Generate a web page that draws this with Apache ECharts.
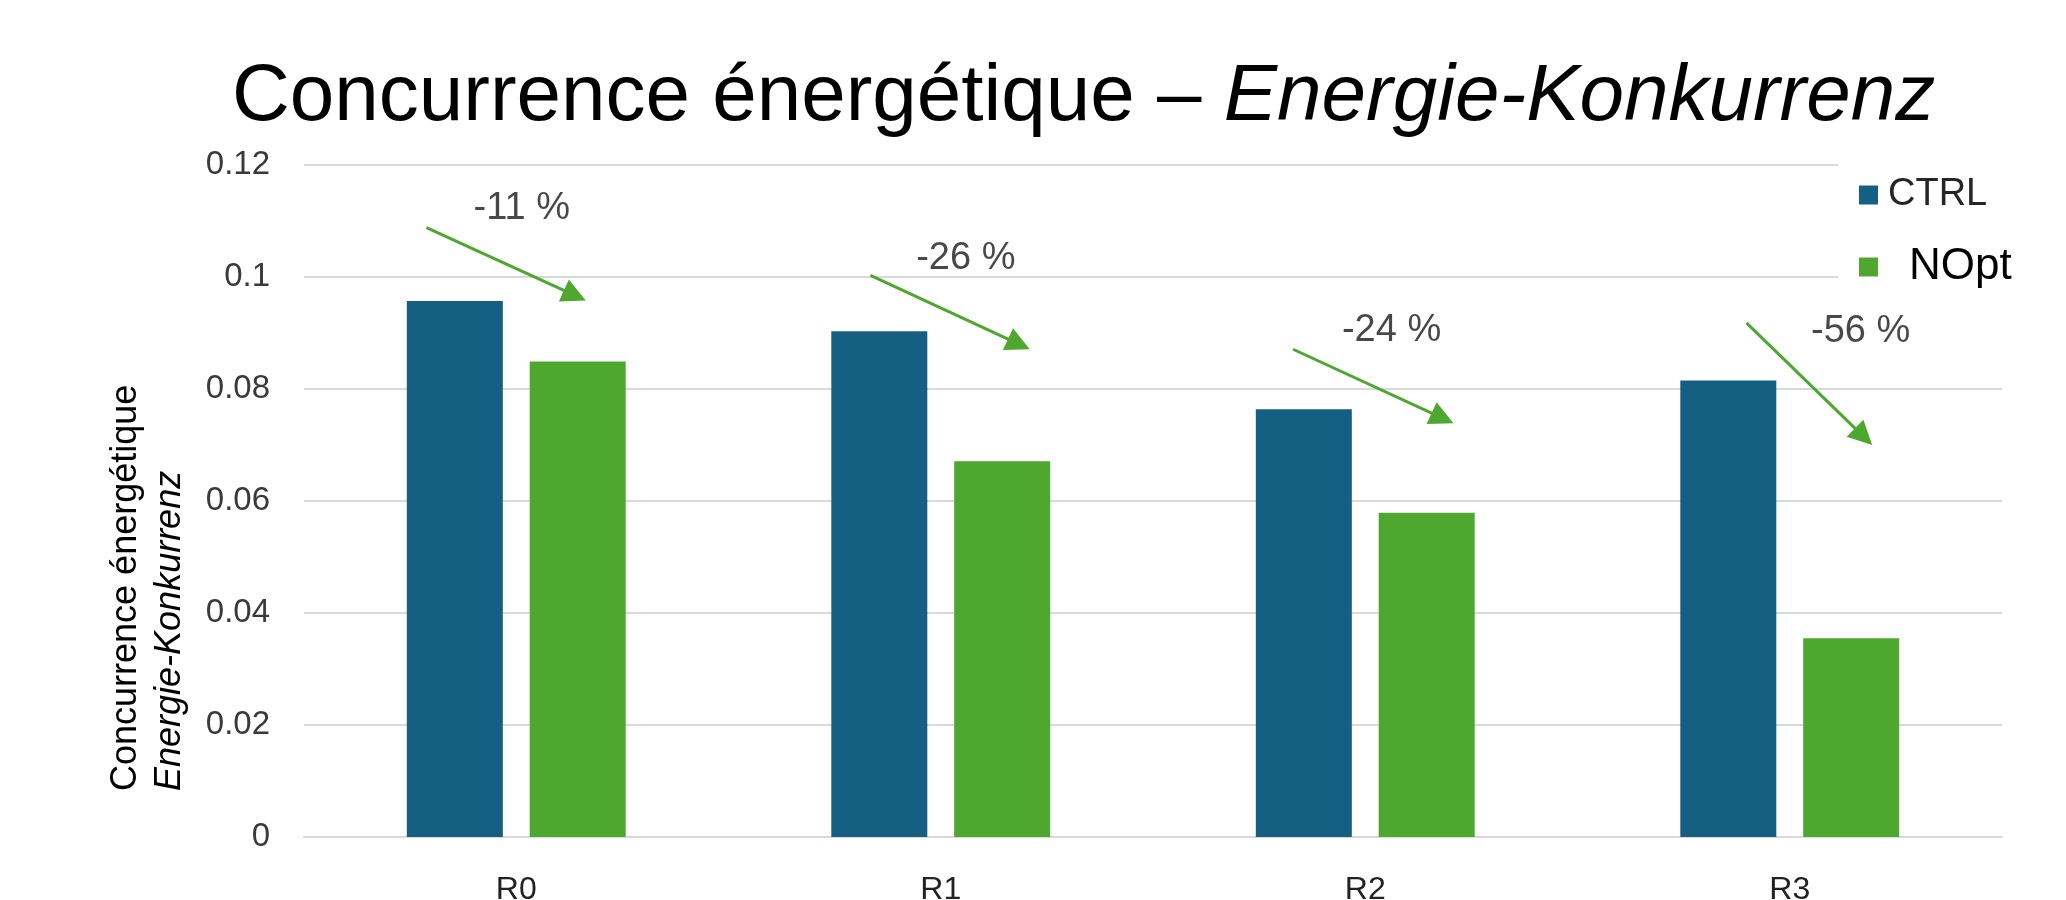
<!DOCTYPE html>
<html>
<head>
<meta charset="utf-8">
<title>Concurrence énergétique – Energie-Konkurrenz</title>
<script src="https://cdn.jsdelivr.net/npm/echarts@6/dist/echarts.min.js"></script>
<style>
  html, body { margin: 0; padding: 0; background: #ffffff; }
  #chart { width: 2066px; height: 900px; }
</style>
</head>
<body>
<div id="chart"></div>
<script>
// Scenarios on the category axis
const categories = ['R0', 'R1', 'R2', 'R3'];

// Energy competition per scenario
const ctrlValues = [0.0957, 0.0903, 0.0764, 0.0815];
const noptValues = [0.0849, 0.0671, 0.0579, 0.0355];

// Relative change NOpt vs CTRL, written above each group
const changeLabels = ['-11 %', '-26 %', '-24 %', '-56 %'];

// Annotation anchors in data units: x = category index (fractional), y = value
const changeLabelAnchors = [[0.013, 0.1122], [1.059, 0.1033], [2.062, 0.0905], [3.167, 0.0903]];
const arrowStarts = [[-0.2115, 0.1088], [0.8344, 0.1003], [1.830, 0.0871], [2.898, 0.0918]];
const arrowEnds = [[0.138, 0.0967], [1.184, 0.0880], [2.182, 0.0748], [3.174, 0.0715]];

const FONT = "'Liberation Sans', Arial, Helvetica, sans-serif";
const BLUE = '#156082';
const GREEN = '#4ea72e';
const GRID_GREY = '#d9d9d9';

const chart = echarts.init(document.getElementById('chart'), null, { renderer: 'canvas' });

const option = {
  backgroundColor: '#ffffff',
  animation: false,
  textStyle: { fontFamily: FONT },
  title: {
    text: '{a|Concurrence énergétique – }{b|Energie-Konkurrenz}',
    left: 232,
    top: 58,
    padding: 0,
    textStyle: {
      fontWeight: 'normal',
      rich: {
        a: { fontFamily: FONT, fontSize: 80, lineHeight: 80, color: '#000000', fontWeight: 'normal' },
        b: { fontFamily: FONT, fontSize: 80, lineHeight: 80, color: '#000000', fontWeight: 'normal', fontStyle: 'italic' }
      }
    }
  },
  legend: {
    orient: 'vertical',
    left: 1838,
    top: 160,
    padding: [16, 10, 10, 21],
    backgroundColor: '#ffffff',
    itemWidth: 19,
    itemHeight: 19,
    itemGap: 31,
    icon: 'rect',
    selectedMode: false,
    data: [
      { name: 'CTRL', textStyle: { fontFamily: FONT, fontSize: 38, color: '#262626', padding: [0, 0, 0, 5] } },
      { name: 'NOpt', textStyle: { fontFamily: FONT, fontSize: 44, color: '#000000', padding: [0, 0, 18, 26] } }
    ]
  },
  grid: {
    left: 304,
    right: 64,
    top: 165,
    bottom: 63,
    containLabel: false,
    outerBoundsMode: 'none'
  },
  xAxis: [
    {
      type: 'category',
      data: categories,
      axisTick: { show: false },
      axisLine: { show: true, lineStyle: { color: GRID_GREY, width: 2 } },
      axisLabel: { fontFamily: FONT, fontSize: 32, color: '#222222', margin: 37 }
    },
    {
      // helper axis so annotations can sit between category centres
      type: 'value',
      min: -0.5,
      max: 3.5,
      show: false
    }
  ],
  yAxis: {
    type: 'value',
    min: 0,
    max: 0.12,
    interval: 0.02,
    axisLine: { show: false },
    axisTick: { show: false },
    splitLine: { show: true, lineStyle: { color: GRID_GREY, width: 2 } },
    axisLabel: { fontFamily: FONT, fontSize: 33, color: '#3a3a3a', margin: 34 },
    name: '{a|Concurrence énergétique}\n{b|Energie-Konkurrenz}',
    nameLocation: 'middle',
    nameRotate: 90,
    nameGap: 112,
    nameTextStyle: {
      rich: {
        a: { fontFamily: FONT, fontSize: 36, lineHeight: 44, color: '#000000', width: 580, align: 'left' },
        b: { fontFamily: FONT, fontSize: 36, lineHeight: 44, color: '#000000', width: 580, align: 'left', fontStyle: 'italic' }
      }
    }
  },
  series: [
    {
      name: 'CTRL',
      type: 'bar',
      data: ctrlValues,
      barWidth: 96,
      barGap: '28%',
      itemStyle: { color: BLUE }
    },
    {
      name: 'NOpt',
      type: 'bar',
      data: noptValues,
      barWidth: 96,
      barGap: '28%',
      itemStyle: { color: GREEN }
    },
    {
      name: 'arrows',
      type: 'lines',
      coordinateSystem: 'cartesian2d',
      xAxisIndex: 1,
      yAxisIndex: 0,
      silent: true,
      symbol: ['none', 'triangle'],
      symbolSize: 24,
      lineStyle: { color: GREEN, width: 3, opacity: 1, curveness: 0 },
      itemStyle: { color: GREEN },
      z: 5,
      data: arrowStarts.map((s, i) => ({ coords: [s, arrowEnds[i]] }))
    },
    {
      name: 'change',
      type: 'scatter',
      xAxisIndex: 1,
      yAxisIndex: 0,
      silent: true,
      symbolSize: 1,
      itemStyle: { color: 'rgba(0,0,0,0)' },
      label: {
        show: true,
        position: 'inside',
        formatter: '{b}',
        fontFamily: FONT,
        fontSize: 38,
        color: '#1a1a1a',
        align: 'center',
        verticalAlign: 'middle'
      },
      z: 6,
      data: changeLabels.map((t, i) => ({ name: t, value: changeLabelAnchors[i] }))
    }
  ]
};

chart.setOption(option);
</script>
</body>
</html>
